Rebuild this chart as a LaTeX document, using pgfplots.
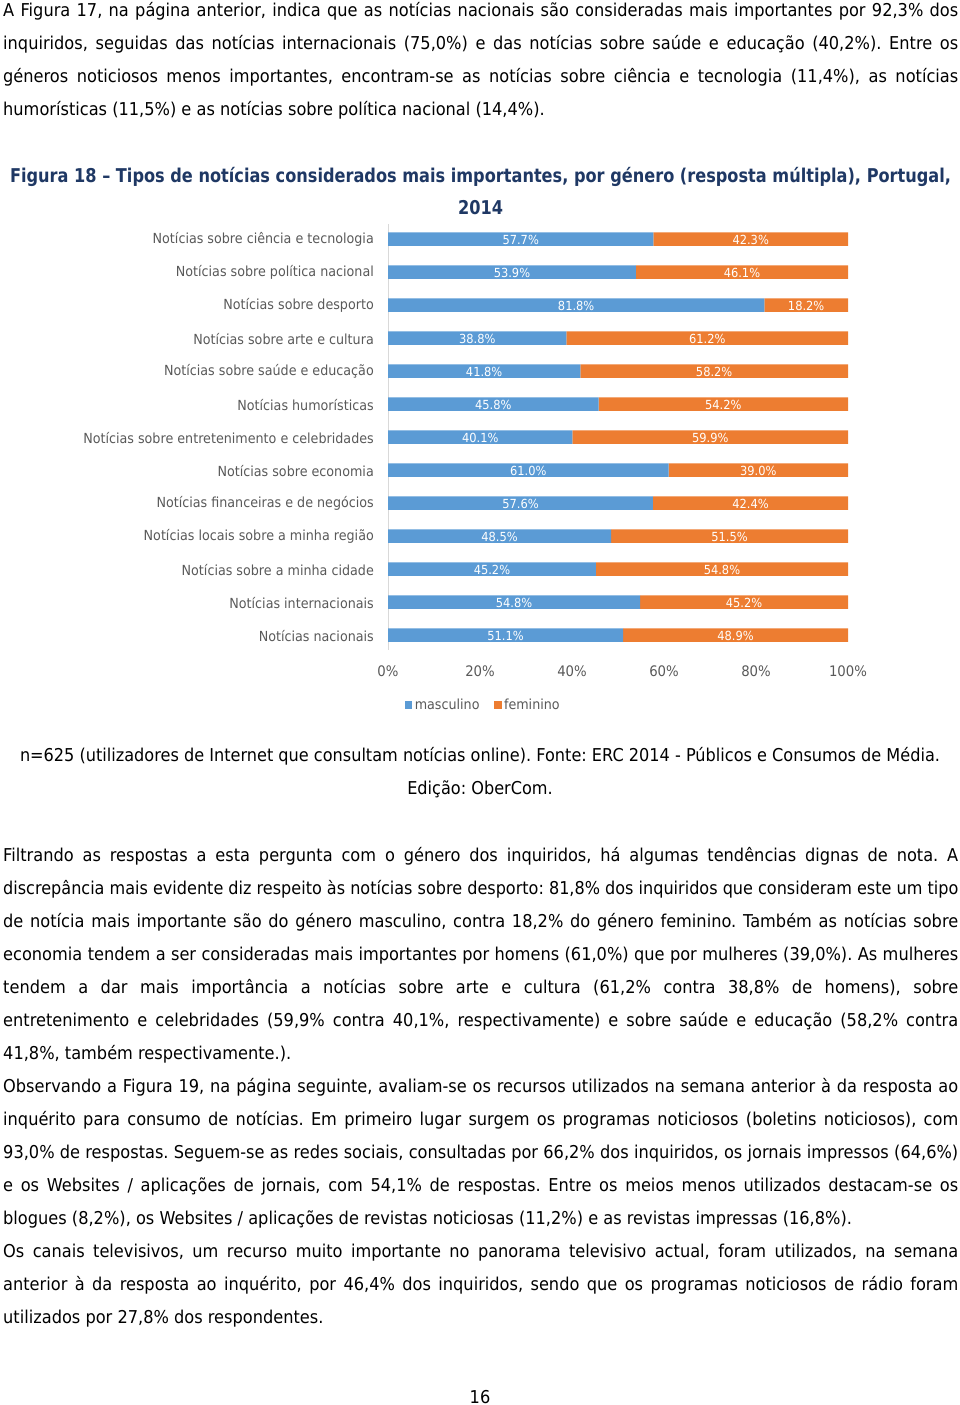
\documentclass[border=0pt]{standalone}
\usepackage{graphicx}
\usepackage{pgfplots}
\pgfplotsset{compat=1.18}
\usepackage{pgfplotstable}
\usepackage{fontspec}
\setmainfont{DejaVu Sans}[FakeStretch=0.915]
\frenchspacing
\definecolor{mblue}{HTML}{5B9BD5}
\definecolor{forange}{HTML}{ED7D31}
\definecolor{lgrey}{HTML}{595959}
\definecolor{ttl}{HTML}{1F3864}
\definecolor{axgrey}{HTML}{D9D9D9}
\newcommand\bodyfont{\fontsize{17.7}{21}\selectfont}
\newcommand\tickfont{\fontsize{14.5}{17}\selectfont}
\newcommand\catfont{\fontsize{13.9}{16}\selectfont}
\newcommand\datafont{\fontsize{12.5}{14}\selectfont}
\newsavebox\lbox
\newcommand\jline[2]{\node[anchor=base west, inner sep=0pt, font=\bodyfont] at (3pt,-#1pt) {\sbox\lbox{#2}\ifdim\wd\lbox>955pt\relax\resizebox{955pt}{\height}{#2}\else\makebox[955pt][s]{#2}\fi};}
\newcommand\lline[2]{\node[anchor=base west, inner sep=0pt, font=\bodyfont] at (3pt,-#1pt) {#2};}
\newcommand\titleone{Figura 18 – Tipos de notícias considerados mais importantes, por género (resposta múltipla), Portugal,}
\newcommand\capone{n=625 (utilizadores de Internet que consultam notícias online). Fonte: ERC 2014 - Públicos e Consumos de Média.}

\pgfplotstableread{
y m f
12 57.7 42.3
11 53.9 46.1
10 81.8 18.2
9 38.8 61.2
8 41.8 58.2
7 45.8 54.2
6 40.1 59.9
5 61.0 39.0
4 57.6 42.4
3 48.5 51.5
2 45.2 54.8
1 54.8 45.2
0 51.1 48.9
}\datatable

\begin{document}
\sbox\lbox{\fontsize{19}{22}\selectfont\bfseries\titleone}%
\pgfmathsetmacro\tscale{941/\the\wd\lbox}%
\sbox\lbox{\bodyfont\capone}%
\pgfmathsetmacro\cscale{920/\the\wd\lbox}%
\begin{tikzpicture}
\path[use as bounding box] (0pt,0pt) rectangle (960pt,-1405pt);
% paragraph 1
\jline{16.5}{A Figura 17, na página anterior, indica que as notícias nacionais são consideradas mais importantes por 92,3\% dos}
\jline{49.5}{inquiridos, seguidas das notícias internacionais (75,0\%) e das notícias sobre saúde e educação (40,2\%). Entre os}
\jline{82.5}{géneros noticiosos menos importantes, encontram-se as notícias sobre ciência e tecnologia (11,4\%), as notícias}
\lline{115.5}{humorísticas (11,5\%) e as notícias sobre política nacional (14,4\%).}
% title
\node[anchor=base, inner sep=0pt, text=ttl] at (480.5pt,-182.5pt) {\scalebox{\tscale}[1]{\fontsize{19}{22}\selectfont\bfseries\titleone}};
\node[anchor=base, inner sep=0pt, text=ttl] at (480.5pt,-214.5pt) {\scalebox{\tscale}[1]{\fontsize{19}{22}\selectfont\bfseries 2014}};
% chart
\begin{axis}[
  at={(388pt,-651.5pt)}, anchor=south west, scale only axis,
  width=460pt, height=429pt,
  xmin=0, xmax=100, ymin=-0.5, ymax=12.5,
  xbar stacked, bar width=13.5pt,
  axis line style={draw=none},
  major tick length=0pt,
  xtick={0,20,40,60,80,100},
  xticklabels={0\%,20\%,40\%,60\%,80\%,100\%},
  ytick={0,...,12},
  yticklabels={Notícias nacionais, Notícias internacionais, Notícias sobre a minha cidade, Notícias locais sobre a minha região, Notícias financeiras e de negócios, Notícias sobre economia, Notícias sobre entretenimento e celebridades, Notícias humorísticas, Notícias sobre saúde e educação, Notícias sobre arte e cultura, Notícias sobre desporto, Notícias sobre política nacional, Notícias sobre ciência e tecnologia},
  tick label style={text=lgrey, inner sep=0pt},
  xticklabel style={font=\tickfont, anchor=north, yshift=-14pt},
  yticklabel style={font=\catfont, anchor=east, xshift=-14pt, yshift=-0.7pt},
  legend style={at={(0.2076,-0.1247)}, anchor=center, draw=none, fill=none,
    legend columns=2, font=\catfont, text=lgrey, inner sep=0pt,
    nodes={inner sep=2.5pt},
    /tikz/every even column/.append style={column sep=12pt}},
  legend image code/.code={\fill[#1] (0pt,-3.5pt) rectangle (7.5pt,4pt);},
]
\addplot[fill=mblue, draw=none] table[x=m, y=y] {\datatable};
\addplot[fill=forange, draw=none] table[x=f, y=y] {\datatable};
\legend{masculino, feminino}
\draw[axgrey, line width=1pt] (axis cs:0,-0.45) -- (axis cs:0,12.45);
\end{axis}
\begin{axis}[
  at={(388pt,-651.5pt)}, anchor=south west, scale only axis,
  width=460pt, height=429pt,
  xmin=0, xmax=100, ymin=-0.5, ymax=12.5, hide axis,
  /pgf/number format/assume math mode=true,
  nodes near coords={\pgfmathprintnumber[fixed,fixed zerofill,precision=1]{\pgfplotspointmeta}\%},
  nodes near coords align=center,
  every node near coord/.append style={font=\datafont, text=white, anchor=center, inner sep=0pt, yshift=-0.5pt},
  point meta=explicit,
]
\addplot[only marks, mark=*, mark size=0pt, mark options={draw=none, fill=none}] table[x expr=\thisrow{m}/2, y=y, meta=m] {\datatable};
\addplot[only marks, mark=*, mark size=0pt, mark options={draw=none, fill=none}] table[x expr=\thisrow{m}+\thisrow{f}/2, y=y, meta=f] {\datatable};
\end{axis}
% caption
\node[anchor=base, inner sep=0pt] at (480pt,-761pt) {\scalebox{\cscale}[1]{\bodyfont\capone}};
\node[anchor=base, inner sep=0pt] at (480pt,-794pt) {\scalebox{\cscale}[1]{\bodyfont Edição: OberCom.}};
% paragraph 2
\jline{861}{Filtrando as respostas a esta pergunta com o género dos inquiridos, há algumas tendências dignas de nota. A}
\jline{894}{discrepância mais evidente diz respeito às notícias sobre desporto: 81,8\% dos inquiridos que consideram este um tipo}
\jline{927}{de notícia mais importante são do género masculino, contra 18,2\% do género feminino. Também as notícias sobre}
\jline{960}{economia tendem a ser consideradas mais importantes por homens (61,0\%) que por mulheres (39,0\%). As mulheres}
\jline{993}{tendem a dar mais importância a notícias sobre arte e cultura (61,2\% contra 38,8\% de homens), sobre}
\jline{1026}{entretenimento e celebridades (59,9\% contra 40,1\%, respectivamente) e sobre saúde e educação (58,2\% contra}
\lline{1059}{41,8\%, também respectivamente.).}
% paragraph 3
\jline{1092}{Observando a Figura 19, na página seguinte, avaliam-se os recursos utilizados na semana anterior à da resposta ao}
\jline{1125}{inquérito para consumo de notícias. Em primeiro lugar surgem os programas noticiosos (boletins noticiosos), com}
\jline{1158}{93,0\% de respostas. Seguem-se as redes sociais, consultadas por 66,2\% dos inquiridos, os jornais impressos (64,6\%)}
\jline{1191}{e os Websites / aplicações de jornais, com 54,1\% de respostas. Entre os meios menos utilizados destacam-se os}
\lline{1224}{blogues (8,2\%), os Websites / aplicações de revistas noticiosas (11,2\%) e as revistas impressas (16,8\%).}
% paragraph 4
\jline{1257}{Os canais televisivos, um recurso muito importante no panorama televisivo actual, foram utilizados, na semana}
\jline{1290}{anterior à da resposta ao inquérito, por 46,4\% dos inquiridos, sendo que os programas noticiosos de rádio foram}
\lline{1323}{utilizados por 27,8\% dos respondentes.}
\node[anchor=base, inner sep=0pt, font=\bodyfont] at (480pt,-1403pt) {16};
\end{tikzpicture}
\end{document}
